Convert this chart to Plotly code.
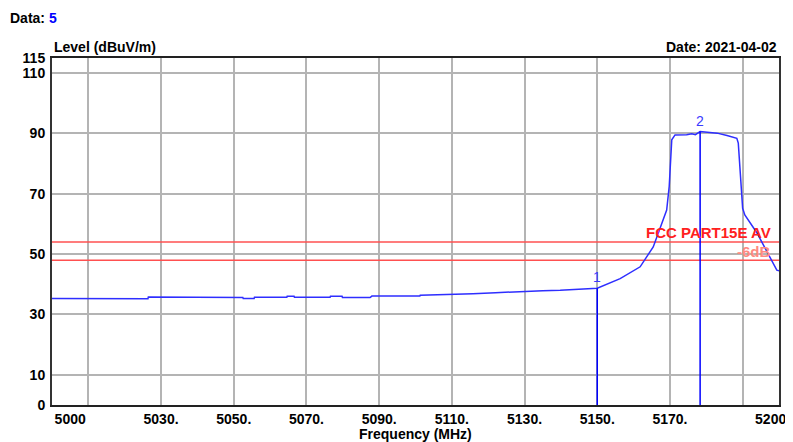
import plotly.graph_objects as go

# trace
freq_mhz = [5000, 5004.4, 5004.5, 5007.2, 5007.3, 5013.2, 5013.8, 5020.9, 5021.0, 5026.4,
            5026.5, 5038.5, 5038.6, 5047.6, 5052.5, 5052.6, 5055.6, 5055.7, 5064.6, 5064.7,
            5066.6, 5066.7, 5076.5, 5076.6, 5079.8, 5079.9, 5087.5, 5088.0, 5101.2, 5101.3,
            5110.0, 5115.8, 5122.0, 5129.6, 5135.0, 5139.8, 5145.0, 5150.0, 5156.3, 5161.8,
            5165.4, 5169.1, 5169.8, 5170.5, 5171.4, 5174.6, 5176.0, 5177.0, 5178.3, 5181.0,
            5183.0, 5185.7, 5188.4, 5188.8, 5189.3, 5190.0, 5190.6, 5193.9, 5199.4, 5200]
level_dbuv = [35.3, 35.3, 35.05, 35.05, 35.3, 35.3, 35.05, 35.05, 35.2, 35.2,
              35.8, 35.8, 35.6, 35.6, 35.6, 35.3, 35.3, 35.7, 35.7, 36.0,
              36.0, 35.7, 35.7, 36.0, 36.0, 35.6, 35.6, 36.1, 36.1, 36.4,
              36.6, 36.9, 37.2, 37.7, 37.9, 38.0, 38.3, 38.7, 41.9, 45.8,
              52.4, 64.6, 72.5, 87.9, 89.5, 89.6, 89.9, 89.6, 90.6, 90.3,
              90.1, 89.3, 88.4, 86.8, 78.0, 65.2, 63.0, 57.1, 44.7, 44.5]

marker_freq = [5150.0, 5178.3]
marker_level = [38.7, 90.6]
marker_names = ['1', '2']

limit_level = 54
margin_level = 48

x_tick_vals = [5005, 5030, 5050, 5070, 5090, 5110, 5130, 5150, 5170, 5197.7]
x_tick_text = ['5000', '5030.', '5050.', '5070.', '5090.', '5110.', '5130.', '5150.', '5170.', '5200']
x_grid = [5010, 5030, 5050, 5070, 5090, 5110, 5130, 5150, 5170, 5190]
y_tick_vals = [0, 10, 30, 50, 70, 90, 110, 115]

fnt = 'Liberation Sans'

fig = go.Figure()

fig.add_trace(go.Scatter(x=[5000, 5200], y=[limit_level, limit_level], mode='lines',
                         line=dict(color='#ff5050', width=1.5), hoverinfo='skip'))
fig.add_trace(go.Scatter(x=[5000, 5200], y=[margin_level, margin_level], mode='lines',
                         line=dict(color='#ff5050', width=1.5), hoverinfo='skip'))

fig.add_trace(go.Scatter(x=freq_mhz, y=level_dbuv, mode='lines',
                         line=dict(color='#2e2eff', width=1.5)))

for f, lv, name in zip(marker_freq, marker_level, marker_names):
    fig.add_trace(go.Scatter(x=[f, f], y=[0, lv], mode='lines',
                             line=dict(color='#0000ff', width=1.5)))
    fig.add_annotation(x=f, y=lv, text=name, showarrow=False, yanchor='bottom', yshift=1,
                       font=dict(family=fnt, size=14, color='#3a3aff'))

fig.add_annotation(x=5200, y=limit_level, text='<b>FCC PART15E AV</b>', showarrow=False,
                   xanchor='right', yanchor='bottom', xshift=-6, yshift=-1,
                   font=dict(family=fnt, size=15, color='#ff2020'))
fig.add_annotation(x=5200, y=margin_level + 3, text='<b>-6dB</b>', showarrow=False,
                   xanchor='right', yanchor='middle', xshift=-6,
                   font=dict(family=fnt, size=15, color='#ff8a80'))

# page body has an 8px margin, so the figure is sized/offset for it
fig.add_annotation(x=0, y=1, xref='paper', yref='paper', yanchor='middle', xanchor='left',
                   text='<b>Data: <span style="color:#0000ff">5</span></b>', showarrow=False,
                   font=dict(family=fnt, size=14, color='black'), xshift=-44, yshift=40)
fig.add_annotation(x=0, y=1, xref='paper', yref='paper', xanchor='left', yanchor='bottom',
                   text='<b>Level (dBuV/m)</b>', showarrow=False, yshift=1,
                   font=dict(family=fnt, size=14, color='black'))
fig.add_annotation(x=1, y=1, xref='paper', yref='paper', xanchor='right', yanchor='bottom',
                   text='<b>Date: 2021-04-02</b>', showarrow=False, yshift=1,
                   font=dict(family=fnt, size=14, color='black'))
fig.add_annotation(x=0.5, y=0, xref='paper', yref='paper', xanchor='center', yanchor='top',
                   text='<b>Frequency (MHz)</b>', showarrow=False, yshift=-19, xshift=0,
                   font=dict(family=fnt, size=14, color='black'))

fig.update_layout(
    width=785, height=434,
    margin=dict(l=44, r=14, t=50, b=37, autoexpand=False),
    plot_bgcolor='white', paper_bgcolor='white',
    showlegend=False,
    font=dict(family=fnt, size=14, color='black'),
)
fig.update_xaxes(range=[5000, 5200], tickvals=x_tick_vals, ticktext=['<b>%s</b>' % t for t in x_tick_text],
                 showgrid=False, zeroline=False, ticks='', ticklen=0, automargin=False,
                 showline=True, linecolor='#222', linewidth=2, mirror=True,
                 minor=dict(tickvals=x_grid, showgrid=True, gridcolor='#b4b4b4', gridwidth=1.5, ticks=''))
fig.update_yaxes(range=[0, 115], tickvals=y_tick_vals, ticktext=['<b>%d</b>' % v for v in y_tick_vals],
                 showgrid=True, gridcolor='#b4b4b4', gridwidth=1.5, zeroline=False, ticks='',
                 ticklabelstandoff=2, automargin=False,
                 showline=True, linecolor='#333', linewidth=2, mirror=True)

fig.write_html("out.html")
